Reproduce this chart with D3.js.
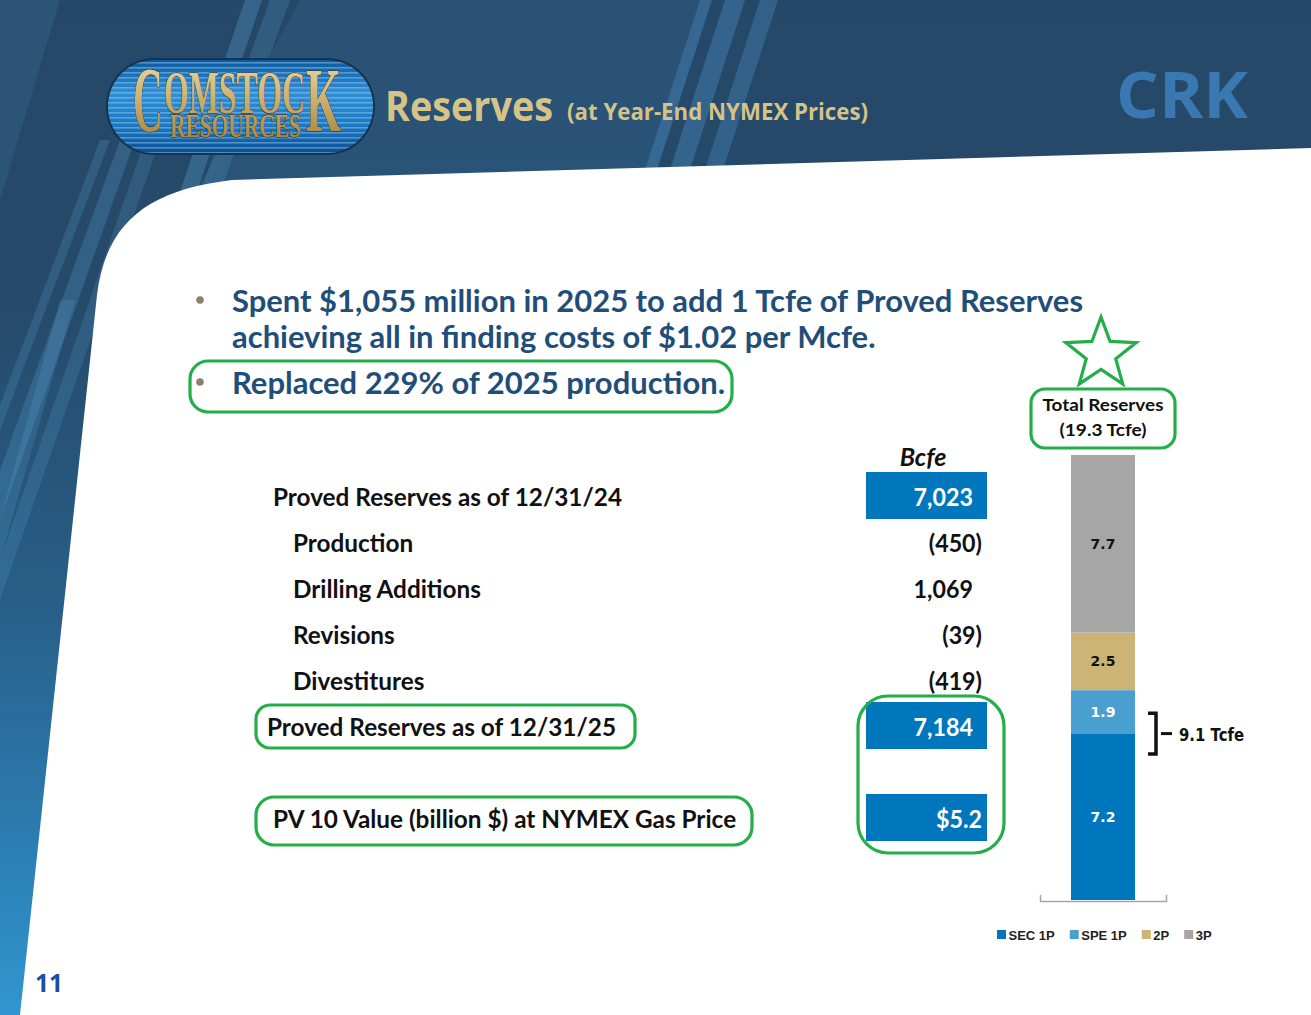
<!DOCTYPE html>
<html><head><meta charset="utf-8">
<script src="https://cdn.jsdelivr.net/npm/d3@7"></script>
<style>body{margin:0;overflow:hidden;background:#fff}</style>
</head><body>
<svg id="c" width="1311" height="1015"></svg>
<script>
// ---------- data ----------
const titleMain = "Reserves";
const titleSub = "(at Year-End NYMEX Prices)";
const tickerText = "CRK";
const logoTop = "COMSTOCK";
const logoBottom = "RESOURCES";
const bulletLines = [
  ["Spent $1,055 million in 2025 to add 1 Tcfe of Proved Reserves",
   "achieving all in finding costs of $1.02 per Mcfe."],
  ["Replaced 229% of 2025 production."]
];
const unitLabel = "Bcfe";
const rowLabels = ["Proved Reserves as of 12/31/24","Production","Drilling Additions",
  "Revisions","Divestitures","Proved Reserves as of 12/31/25",
  "PV 10 Value (billion $) at NYMEX Gas Price"];
const rowValues = [7023,-450,1069,-39,-419,7184,5.2];
const rowKinds = ["total","item","item","item","item","total","pv"];
const reserveCats = ["SEC 1P","SPE 1P","2P","3P"];
const reserveVals = [7.2,1.9,2.5,7.7];
const totalLabel = ["Total Reserves","(19.3 Tcfe)"];
const provedLabel = "9.1 Tcfe";
const pageNumber = "11";

// ---------- setup ----------
const svg = d3.select("#c");
const defs = svg.append("defs");
const GREEN = "#23ae4a";

function fit(sel, factor){ sel.each(function(){ const w=this.getComputedTextLength(); d3.select(this).attr("textLength", w*factor).attr("lengthAdjust","spacingAndGlyphs"); }); }
function fitTo(sel, target){ sel.each(function(){ d3.select(this).attr("textLength", target).attr("lengthAdjust","spacingAndGlyphs"); }); }
function measure(node){ return node.getComputedTextLength(); }

// background gradient
const bg = defs.append("linearGradient").attr("id","bg").attr("x1",0).attr("y1",0).attr("x2",0).attr("y2",1);
[[0,"#264868"],[0.3,"#264a6b"],[0.6,"#285f88"],[0.85,"#2c80b6"],[1,"#3196cf"]].forEach(([o,c])=>bg.append("stop").attr("offset",o).attr("stop-color",c));
svg.append("rect").attr("width",1311).attr("height",1015).attr("fill","url(#bg)");

// decorative stripes
const stripes = [
  {p:[[300,0],[700,0],[640,185],[200,185]], c:"#3f86bb", o:0.16},
  {p:[[245,0],[262,0],[150,330],[133,330]], c:"#5aa3d6", o:0.32},
  {p:[[270,0],[290,0],[170,330],[150,330]], c:"#5aa3d6", o:0.22},
  {p:[[700,0],[712,0],[652,185],[640,185]], c:"#4a8fc6", o:0.45},
  {p:[[725,0],[745,0],[685,185],[665,185]], c:"#4a8fc6", o:0.4},
  {p:[[760,0],[778,0],[718,185],[700,185]], c:"#4a8fc6", o:0.35},
  {p:[[120,140],[135,140],[0,520],[0,470]], c:"#5aa3d6", o:0.26},
  {p:[[145,140],[160,140],[0,600],[0,560]], c:"#5aa3d6", o:0.2},
  {p:[[100,140],[110,140],[0,430],[0,405]], c:"#5aa3d6", o:0.22},
  {p:[[60,300],[75,300],[0,560],[0,520]], c:"#6ab2e0", o:0.18},
  {p:[[0,0],[60,0],[0,200]], c:"#2f5f86", o:0.5}
];
svg.append("g").selectAll("path").data(stripes).join("path")
  .attr("d",d=>d3.line()(d.p)+"Z").attr("fill",d=>d.c).attr("opacity",d=>d.o);

// white content region
svg.append("path")
  .attr("d","M20,1015 L97,295 C106,222 148,190 232,180 L1311,148 L1311,1015 Z")
  .attr("fill","#ffffff");

// ---------- logo ----------
const logoG = svg.append("g");
const lgLogo = defs.append("linearGradient").attr("id","logoBg").attr("x1",0).attr("y1",0).attr("x2",0).attr("y2",1);
[[0,"#0b5aa0"],[0.35,"#2f8fd6"],[0.7,"#1d78c4"],[1,"#0b4f93"]].forEach(([o,c])=>lgLogo.append("stop").attr("offset",o).attr("stop-color",c));
const clip = defs.append("clipPath").attr("id","logoClip");
clip.append("rect").attr("x",108).attr("y",60).attr("width",265).attr("height",93).attr("rx",46);
logoG.append("rect").attr("x",106).attr("y",58).attr("width",269).attr("height",97).attr("rx",48).attr("fill","#17324d");
logoG.append("rect").attr("x",108).attr("y",60).attr("width",265).attr("height",93).attr("rx",46).attr("fill","url(#logoBg)");
logoG.append("g").attr("clip-path","url(#logoClip)").selectAll("rect").data(d3.range(62,153,5)).join("rect")
  .attr("x",108).attr("y",d=>d).attr("width",265).attr("height",1.6).attr("fill","#9fd3f5").attr("opacity",0.45);
const gold = defs.append("linearGradient").attr("id","gold").attr("x1",0).attr("y1",0).attr("x2",0).attr("y2",1);
[[0,"#f2e4b8"],[0.5,"#cdb06e"],[1,"#9a7b3e"]].forEach(([o,c])=>gold.append("stop").attr("offset",o).attr("stop-color",c));
const serif = "'Liberation Serif','DejaVu Serif',serif";
const logoText = logoG.append("text").attr("font-family",serif).attr("font-weight","bold")
  .attr("fill","url(#gold)").attr("stroke","#3b2a10").attr("stroke-width",1.1).attr("paint-order","stroke");
const logoParts = [
  {t:logoTop[0], x:133, y:131, s:94, w:30},
  {t:logoTop.slice(1,-1), x:164, y:113, s:62, w:141},
  {t:logoTop.slice(-1), x:306, y:131, s:92, w:35},
  {t:logoBottom, x:170, y:137, s:34, w:131}
];
logoParts.forEach(p=>logoText.append("tspan").attr("x",p.x).attr("y",p.y).attr("font-size",p.s)
  .attr("textLength",p.w).attr("lengthAdjust","spacingAndGlyphs").text(p.t));

// ---------- title ----------
svg.append("text").attr("x",385).attr("y",121).attr("font-family","'Open Sans',sans-serif").attr("font-weight","bold")
  .attr("font-size",42).attr("fill","#d5c388").text(titleMain).call(fitTo,168);
svg.append("text").attr("x",567).attr("y",120).attr("font-family","'Open Sans',sans-serif").attr("font-weight","bold")
  .attr("font-size",23).attr("fill","#d5c388").text(titleSub).call(fitTo,301);
svg.append("text").attr("x",1116).attr("y",118).attr("font-family","'Open Sans',sans-serif").attr("font-weight","bold")
  .attr("font-size",64).attr("fill","#3a78b2").text(tickerText).call(fitTo,132);

// ---------- bullets ----------
const bulletG = svg.append("g").attr("font-family","Lato,'Open Sans',sans-serif").attr("font-weight","bold").attr("font-size",31).attr("fill","#1f4e79");
const bulletBase = [[312,348],[394]];
bulletLines.forEach((lines,i)=>{
  bulletG.append("circle").attr("cx",200).attr("cy",bulletBase[i][0]-12).attr("r",3.8).attr("fill","#8c7f70");
  lines.forEach((ln,j)=>bulletG.append("text").attr("class","bl").attr("x",232).attr("y",bulletBase[i][j]).text(ln));
});
{
  const nodes = bulletG.selectAll("text.bl").nodes();
  const f = 851/measure(nodes[0]);
  bulletG.selectAll("text.bl").call(fit,f);
}

// ---------- table ----------
const rowPos = rowLabels.map((d,i)=> i<6 ? i : i+1);
const yRow = d3.scaleLinear().domain([0,7]).range([497,819]);
const tableFont = "Lato,'Open Sans',sans-serif";
const tbl = svg.append("g").attr("font-family",tableFont).attr("font-weight","bold").attr("font-size",25);
svg.append("text").attr("x",923).attr("y",466).attr("text-anchor","middle").attr("font-family",tableFont)
  .attr("font-weight","bold").attr("font-style","italic").attr("font-size",25).attr("fill","#111").text(unitLabel);
const valueBoxes = rowValues.map((v,i)=>({v,i,kind:rowKinds[i]})).filter(d=>d.kind!=="item");
tbl.selectAll("rect.vb").data(valueBoxes).join("rect").attr("class","vb")
  .attr("x",866).attr("width",121).attr("y",d=>yRow(rowPos[d.i])-25).attr("height",47).attr("fill","#0077bc");
const fmtV = (v,k)=> k==="pv" ? "$"+d3.format(".1f")(v) : (v<0 ? "("+d3.format(",")(-v)+")" : d3.format(",")(v));
const labels = tbl.selectAll("text.lab").data(rowLabels).join("text").attr("class","lab")
  .attr("x",(d,i)=> rowKinds[i]==="item" ? 293 : (i===5 ? 267 : 273))
  .attr("y",(d,i)=>yRow(rowPos[i])+9).attr("fill","#111").text(d=>d);
{
  const f = 349/measure(labels.nodes()[0]);
  labels.call(fit,f);
}
const vals = tbl.selectAll("text.val").data(rowValues).join("text").attr("class","val")
  .attr("text-anchor","end")
  .attr("x",(d,i)=>{ const s=fmtV(d,rowKinds[i]); return (s.endsWith(")")||s.startsWith("$")) ? 982 : 973; })
  .attr("y",(d,i)=>yRow(rowPos[i])+9)
  .attr("fill",(d,i)=>rowKinds[i]==="item" ? "#111" : "#ffffff")
  .text((d,i)=>fmtV(d,rowKinds[i]));
vals.call(fit,0.93);

// ---------- stacked bar ----------
const x = d3.scaleBand().domain(["2025"]).range([1040,1166]).paddingInner(0).paddingOuter(0.484);
const total = d3.sum(reserveVals);
const y = d3.scaleLinear().domain([0,total]).range([900,455]);
const colors = d3.scaleOrdinal().domain(reserveCats).range(["#0077bc","#4a9fd1","#ccb477","#a6a6a6"]);
const row = Object.fromEntries(reserveCats.map((c,i)=>[c,reserveVals[i]]));
row.year = "2025";
const series = d3.stack().keys(reserveCats)([row]);
const barG = svg.append("g");
barG.selectAll("rect").data(series).join("rect")
  .attr("x",x("2025")).attr("width",x.bandwidth())
  .attr("y",d=>y(d[0][1])).attr("height",d=>y(d[0][0])-y(d[0][1]))
  .attr("fill",d=>colors(d.key));
barG.selectAll("text").data(series).join("text")
  .attr("x",x("2025")+x.bandwidth()/2).attr("y",d=>(y(d[0][0])+y(d[0][1]))/2+5)
  .attr("text-anchor","middle").attr("font-family","'DejaVu Sans',sans-serif").attr("font-weight","bold").attr("font-size",14)
  .attr("fill",(d,i)=> i<2 ? "#ffffff" : "#111")
  .text((d,i)=>d3.format(".1f")(reserveVals[i]));
// axis
const axis = svg.append("g").attr("transform","translate(0,901)")
  .call(d3.axisTop(x).tickSize(0).tickSizeOuter(6).tickFormat(""));
axis.select(".domain").attr("stroke","#a6a6a6").attr("stroke-width",1.5);

// total label box
svg.append("text").attr("x",1103).attr("y",411).attr("text-anchor","middle").attr("font-family","Lato,sans-serif")
  .attr("font-weight","bold").attr("font-size",17).attr("fill","#111").text(totalLabel[0]).call(fitTo,121);
svg.append("text").attr("x",1103).attr("y",436).attr("text-anchor","middle").attr("font-family","Lato,sans-serif")
  .attr("font-weight","bold").attr("font-size",17).attr("fill","#111").text(totalLabel[1]).call(fitTo,87);

// bracket for proved reserves
const yTopProved = y(reserveVals[0]+reserveVals[1]);
const yBotProved = y(reserveVals[0]);
const bx = 1156;
svg.append("path").attr("d",`M${bx-8},${yTopProved+23} H${bx} V${yBotProved+20} H${bx-8}`)
  .attr("fill","none").attr("stroke","#111").attr("stroke-width",3.5);
const ymid = (yTopProved+23+yBotProved+20)/2;
svg.append("line").attr("x1",bx+5).attr("x2",bx+16).attr("y1",ymid).attr("y2",ymid).attr("stroke","#111").attr("stroke-width",3);
svg.append("text").attr("x",1179).attr("y",ymid+7).attr("font-family","'DejaVu Sans',sans-serif").attr("font-weight","bold")
  .attr("font-size",17).attr("fill","#111").text(provedLabel).call(fitTo,65);

// legend
const lg = svg.append("g").attr("font-family","'Liberation Sans',Arial,sans-serif").attr("font-weight","bold").attr("font-size",13).attr("fill","#222");
let lx = 997;
reserveCats.forEach(c=>{
  lg.append("rect").attr("x",lx).attr("y",930).attr("width",9).attr("height",9).attr("fill",colors(c));
  const t = lg.append("text").attr("x",lx+11.5).attr("y",939.5).text(c);
  lx += 11.5 + measure(t.node()) + 15;
});

// ---------- green highlights ----------
const hl = svg.append("g").attr("fill","none").attr("stroke",GREEN).attr("stroke-width",3.2);
[[190,361,542,51,18],[1031,389,144,59,14],[256,705,379,43,14],[256,797,496,48,18],[858,696,146,157,30]]
  .forEach(([a,b,w,h,r])=>hl.append("rect").attr("x",a).attr("y",b).attr("width",w).attr("height",h).attr("rx",r));
// star
const starPts = d3.range(10).map(i=>{
  const r = i%2===0 ? 37 : 15.5;
  const ang = -Math.PI/2 + i*Math.PI/5;
  return [1101 + r*Math.cos(ang), 354 + r*Math.sin(ang)];
});
hl.append("path").attr("d",d3.line()(starPts)+"Z").attr("stroke-linejoin","miter");

// page number
svg.append("text").attr("x",35).attr("y",992).attr("font-family","'Open Sans',sans-serif").attr("font-weight","bold")
  .attr("font-size",25).attr("fill","#1a4fa3").text(pageNumber).call(fitTo,28);
</script>
</body></html>
